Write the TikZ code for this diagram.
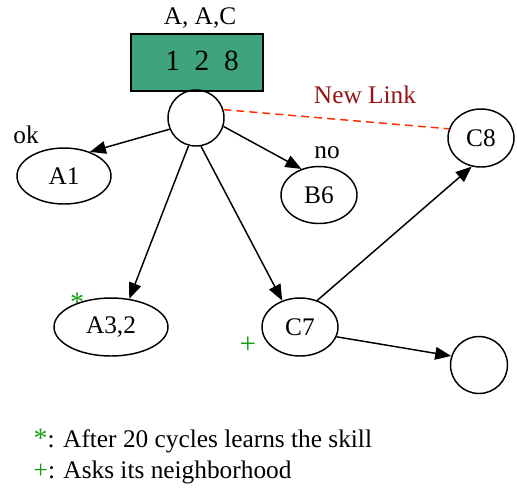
\documentclass[tikz,border=0pt]{standalone}
\usepackage{fontspec}
\setmainfont{Liberation Serif}
\usetikzlibrary{arrows.meta,shapes.geometric}

\definecolor{boxgreen}{RGB}{63,163,123}
\definecolor{linkred}{RGB}{255,45,0}
\definecolor{labelred}{RGB}{150,20,20}
\definecolor{markgreen}{RGB}{20,160,20}

\tikzset{every picture/.style={line width=1.1pt}}
\tikzset{
  agent/.style={draw,ellipse,inner sep=0pt},
  link/.style={-{Triangle[length=12pt,width=9.5pt]}},
  newlink/.style={draw=linkred,dash pattern=on 6pt off 3.75pt}
}

\begin{document}
\begin{tikzpicture}[x=0.75pt,y=0.75pt,yscale=-1,xscale=1,font=\fontsize{19}{22}\selectfont]
\useasboundingbox (0,0) rectangle (517,487);

%Shape: Rectangle
\draw [fill=boxgreen] (131,34) -- (263,34) -- (263,91) -- (131,91) -- cycle ;
% Text Node
\draw (202,61) node [inner sep=0.75pt,font=\fontsize{22}{26}\selectfont] (skills) {1\ \ 2\ \ 8};
% Text Node
\draw (200,18) node [inner sep=0.75pt] (owners) {A, A,C};

%Shape: Circle
\draw (196,118) node [agent,minimum width=42pt,minimum height=42pt] (top) {};
%Shape: Ellipse
\draw (64,176) node [agent,minimum width=70.5pt,minimum height=42pt] (A1) {A1};
%Shape: Ellipse
\draw (319,195) node [agent,minimum width=57pt,minimum height=42.75pt] (B6) {B6};
%Shape: Ellipse
\draw (481,138) node [agent,minimum width=49.5pt,minimum height=43.5pt] (C8) {C8};
%Shape: Ellipse
\draw (111,327) node [agent,minimum width=85.5pt,minimum height=43.5pt] (A32) {A3,2};
%Shape: Ellipse
\draw (300,327) node [agent,minimum width=57pt,minimum height=43.5pt] (C7) {C7};
%Shape: Circle
\draw (479,365) node [agent,minimum width=42.75pt,minimum height=42.75pt] (free) {};

% Text Node
\draw (26,135) node [inner sep=0.75pt] (ok) {ok};
% Text Node
\draw (327,153) node [inner sep=0.75pt] (no) {no};
% Text Node
\draw (365,95) node [inner sep=0.75pt,text=labelred] (newlab) {New Link};
% Text Node
\draw (77,302) node [inner sep=0.75pt,text=markgreen,font=\fontsize{21}{24}\selectfont] (star) {*};
% Text Node
\draw (248,345) node [inner sep=0.75pt,text=markgreen,font=\fontsize{22}{24}\selectfont] (plus) {+};

%Straight Lines [arrows]
\draw [link] (top.203) -- (A1.43);
\draw [link] (top.343) -- (B6.124);
\draw [link] (top.255) -- (A32.57);
\draw [link] (top.280) -- (C7.124);
\draw [link] (C7.57) -- (C8.252);
\draw [link] (C7.345) -- (free.162);
%Straight Lines [dashed]
\draw [newlink] (top.17) -- (C8.164);

% Text Node
\draw (33,447) node [anchor=base west,inner sep=0pt] (note1) {\textcolor{markgreen}{\fontsize{21}{22}\selectfont*}: After 20 cycles learns the skill};
% Text Node
\draw (33,478) node [anchor=base west,inner sep=0pt] (note2) {\textcolor{markgreen}{+}: Asks its neighborhood};

\end{tikzpicture}
\end{document}
